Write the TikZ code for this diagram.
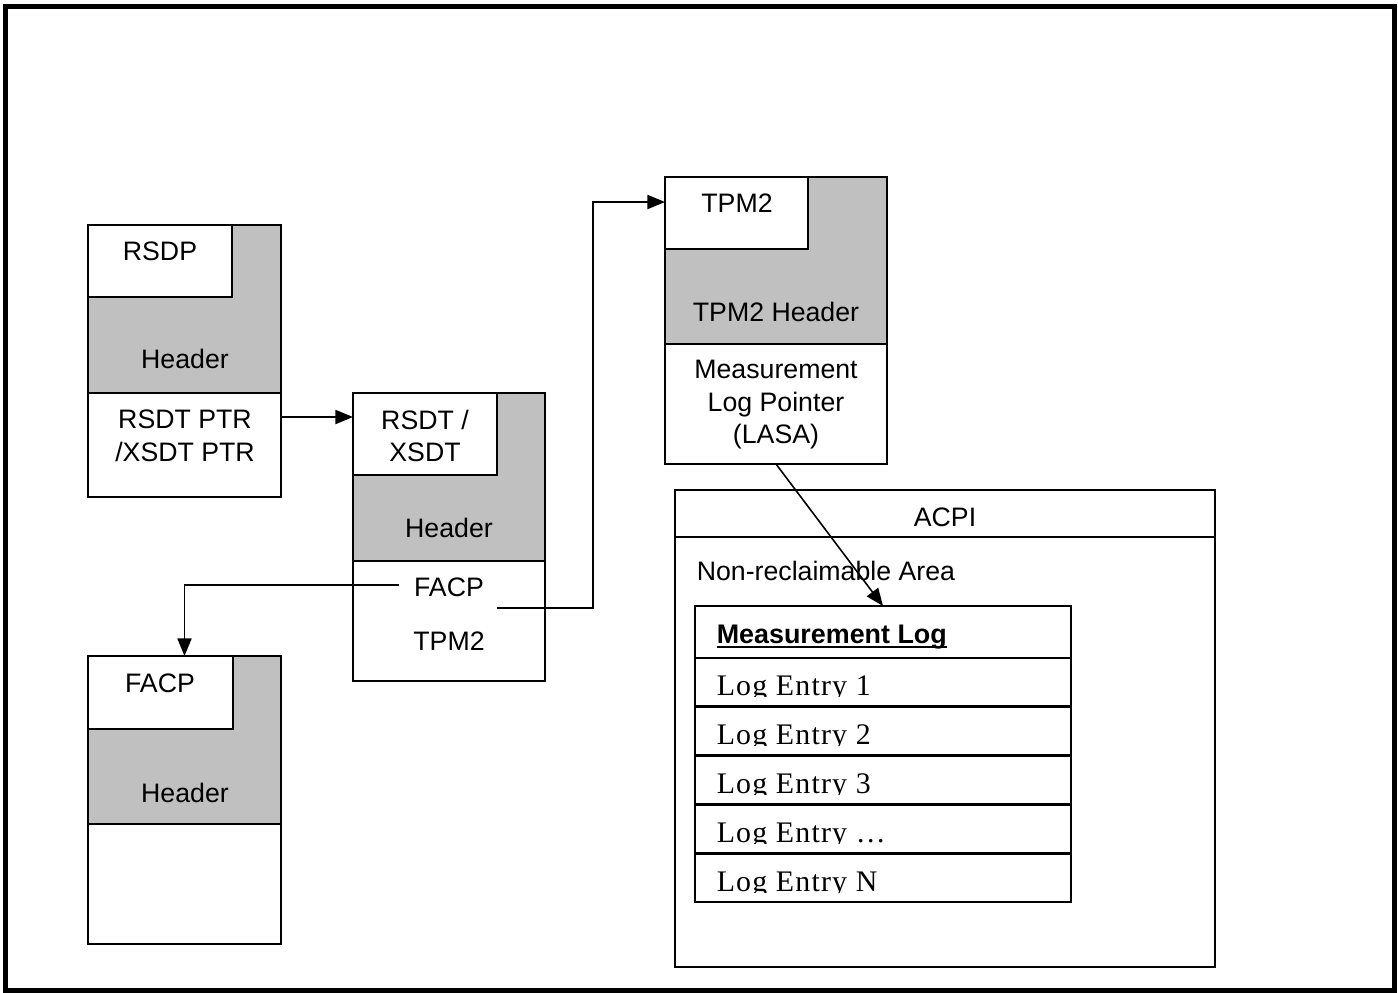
\documentclass[tikz,border=0pt]{standalone}
\usepackage{fontspec}
\setmainfont{Liberation Sans}
\newfontfamily\logfont[LetterSpace=4]{Liberation Serif}
\usepackage{tikz}
\usetikzlibrary{arrows.meta}
\definecolor{hdrgray}{RGB}{192,192,192}
\newcommand\logul[1]{\setbox0\hbox{#1}\rlap{\rule[-2.6pt]{\wd0}{1.1pt}}\box0}

\begin{document}
\begin{tikzpicture}
	[x=0.02cm,y=-0.02cm,>={Triangle[length=10pt,width=8pt]},line width=0.9pt,
		box/.style={draw,rectangle,inner sep=0pt,outer sep=0pt},
		head box/.style={box,fill=hdrgray,minimum height=3.36cm},
		name box/.style={box,fill=white,minimum width=2.88cm,minimum height=1.44cm},
		body box/.style={box,fill=white},
		txt/.style={font=\fontsize{15.2}{18.5}\selectfont,align=center,inner sep=0pt},
		log row/.style={box,minimum width=7.52cm,minimum height=0.96cm},
		log txt/.style={font=\logfont\fontsize{17}{18}\selectfont,inner sep=0pt,anchor=base west}]

	\useasboundingbox (0,0) rectangle (1398,992);
	\draw[line width=2.8pt] (5.5,6.5) rectangle (1394.5,990.5);

	% RSDP
	\node[head box,minimum width=3.86cm]  (rsdphead)  at (184.5,309) {};
	\node[name box]                       (rsdpname)  at (160,261)   {};
	\node[body box,minimum width=3.86cm,minimum height=2.08cm] (rsdpbody) at (184.5,445) {};
	\node[txt] (rsdplbl) at (160,251) {RSDP};
	\node[txt] (rsdphdr) at (185,359) {Header};
	\node[txt] (rsdpptr) at (185,436) {RSDT PTR\\/XSDT PTR};

	% RSDT / XSDT
	\node[head box,minimum width=3.84cm]  (rsdthead)  at (449,477)   {};
	\node[name box,minimum height=1.64cm] (rsdtname)  at (425,434)   {};
	\node[body box,minimum width=3.84cm,minimum height=2.4cm] (rsdtbody) at (449,621) {};
	\node[txt] (rsdtlbl)  at (425,436) {RSDT /\\XSDT};
	\node[txt] (rsdthdr)  at (449,528) {Header};
	\node[txt] (rsdtfacp) at (449,587) {FACP};
	\node[txt] (rsdttpm)  at (449,641) {TPM2};
	\coordinate (tpmptr) at (497,608);

	% FACP
	\node[head box,minimum width=3.86cm]  (facphead)  at (184.5,740) {};
	\node[name box,minimum width=2.9cm,minimum height=1.46cm] (facpname) at (160.5,692.5) {};
	\node[body box,minimum width=3.86cm,minimum height=2.4cm] (facpbody) at (184.5,884) {};
	\node[txt] (facplbl) at (160,683) {FACP};
	\node[txt] (facphdr) at (185,793) {Header};

	% TPM2
	\node[head box,minimum width=4.44cm,minimum height=3.34cm] (tpmhead) at (776,260.5) {};
	\node[name box,minimum width=2.86cm]  (tpmname)   at (736.5,213) {};
	\node[body box,minimum width=4.44cm,minimum height=2.4cm] (tpmbody) at (776,404) {};
	\node[txt] (tpmlbl)  at (737,203) {TPM2};
	\node[txt] (tpmhdr)  at (776,312) {TPM2 Header};
	\node[txt] (tpmlasa) at (776,405) {Measurement\\Log Pointer\\(LASA)};

	% ACPI
	\node[box,minimum width=10.8cm,minimum height=9.54cm] (acpi)      at (945,728.5) {};
	\node[box,minimum width=10.8cm,minimum height=0.94cm] (acpititle) at (945,513.5) {};
	\node[txt] (acpilbl) at (945,517) {ACPI};
	\node[txt,anchor=west] (nonrecl) at (696,571) {Non-reclaimable Area};

	\node[log row,minimum height=1.04cm] (mloghead) at (883,632) {};
	\node[txt,anchor=base west,font=\bfseries\fontsize{15.3}{18}\selectfont] (mloglbl) at (716,643) {\logul{Measurement Log}};
	\foreach \n [count=\i from 0] in {1,2,3,…,N}{
		\node[log row] (logrow\i) at (883,{682+49*\i}) {};
		\begin{scope}
			\clip (logrow\i.north west) rectangle ([yshift=-0.77cm]logrow\i.north east);
			\node[log txt] (logtxt\i) at (716,{695+49*\i}) {Log Entry \n};
		\end{scope}
	}

	\draw[->] ([yshift=-0.48cm]rsdpbody.north east) -- ([yshift=-0.48cm]rsdtname.north west);
	\draw[->] ([xshift=-0.28cm,yshift=0.04cm]rsdtfacp.west) -| (facphead.north);
	\draw[->] (tpmptr) -- ++(96,0) |- ([yshift=0.22cm]tpmname.west);
	\draw[->] (tpmbody.south) -- (mloghead.north);

\end{tikzpicture}
\end{document}
